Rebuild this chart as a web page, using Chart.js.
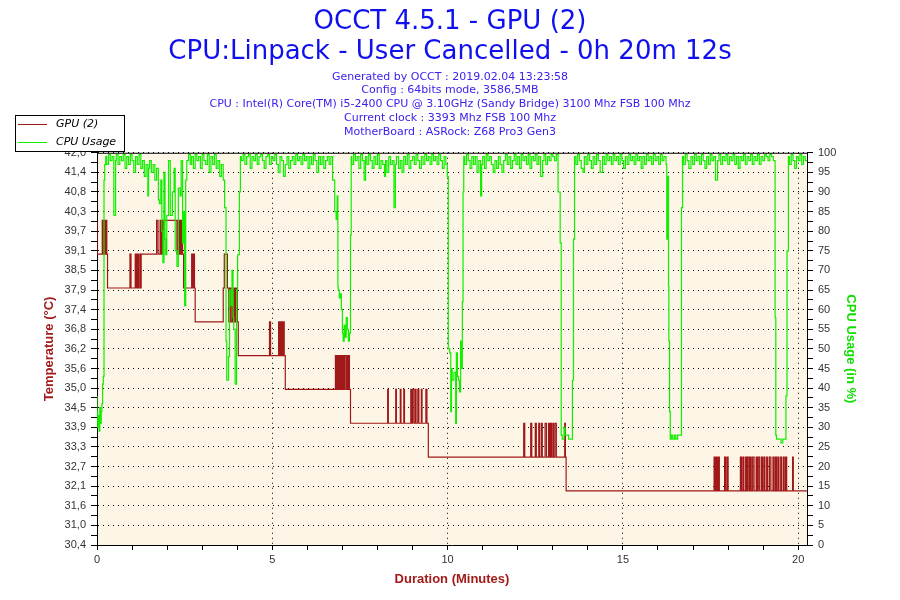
<!DOCTYPE html>
<html>
<head>
<meta charset="utf-8">
<title>OCCT 4.5.1 - GPU (2)</title>
<script src="https://cdn.jsdelivr.net/npm/chart.js@4/dist/chart.umd.min.js"></script>
<style>
  html, body { margin: 0; padding: 0; background: #fff; }
  #occtChart { display: block; }
</style>
</head>
<body>
<canvas id="occtChart" width="900" height="600"></canvas>
<script>
// Texte du rapport OCCT
var titleLines = ['OCCT 4.5.1 - GPU (2)', 'CPU:Linpack - User Cancelled - 0h 20m 12s'];
var infoLines = [
    'Generated by OCCT : 2019.02.04 13:23:58',
    'Config : 64bits mode, 3586,5MB',
    'CPU : Intel(R) Core(TM) i5-2400 CPU @ 3.10GHz (Sandy Bridge) 3100 Mhz FSB 100 Mhz',
    'Current clock : 3393 Mhz FSB 100 Mhz',
    'MotherBoard : ASRock: Z68 Pro3 Gen3'
];

// Graduations
var tempTickLabels = ['30,4', '31,0', '31,6', '32,1', '32,7', '33,3', '33,9', '34,5', '35,0', '35,6', '36,2',
    '36,8', '37,4', '37,9', '38,5', '39,1', '39,7', '40,3', '40,8', '41,4', '42,0'];
var cpuTickLabels = ['0', '5', '10', '15', '20', '25', '30', '35', '40', '45', '50',
    '55', '60', '65', '70', '75', '80', '85', '90', '95', '100'];
var minuteTickLabels = ['0', '5', '10', '15', '20'];

// GPU (2) : [minutes, °C]
var gpuTemp = [
    [0, 40], [0.15, 39], [0.18, 40], [0.21, 39], [0.23, 40], [0.26, 39], [0.28, 40], [0.3, 39],
    [0.94, 38], [0.97, 39], [1.09, 38], [1.12, 39], [1.15, 38], [1.18, 39], [1.22, 38], [1.25, 39], [1.26, 38],
    [1.7, 39], [1.74, 40], [1.8, 39], [1.83, 40], [1.86, 39], [1.88, 40], [1.9, 39],
    [2.28, 40], [2.3, 39], [2.33, 40], [2.36, 39], [2.39, 40], [2.42, 39], [2.44, 40], [2.47, 39],
    [2.7, 38], [2.73, 39], [2.76, 38], [2.78, 39], [2.8, 38],
    [3.6, 37], [3.63, 38], [3.72, 39], [3.76, 38], [3.79, 37], [3.82, 38], [3.86, 37], [3.88, 38],
    [3.92, 37], [3.95, 38], [3.98, 37], [4.0, 38], [4.03, 37],
    [4.92, 36], [4.95, 37],
    [5.18, 36], [5.2, 37], [5.22, 36], [5.24, 37], [5.27, 36], [5.29, 37], [5.32, 36], [5.34, 37], [5.37, 36],
    [6.8, 35], [6.82, 36], [6.84, 35], [6.86, 36], [6.88, 35], [6.9, 36], [6.92, 35], [6.94, 36], [6.96, 35],
    [6.98, 36], [7.0, 35], [7.03, 36], [7.06, 35], [7.1, 36], [7.12, 35], [7.15, 36], [7.18, 35], [7.2, 36], [7.23, 35],
    [8.29, 34], [8.31, 35], [8.52, 34], [8.54, 35], [8.65, 34], [8.67, 35], [8.75, 34], [8.77, 35],
    [8.95, 34], [8.97, 35], [9.0, 34], [9.04, 35], [9.08, 34], [9.1, 35], [9.15, 34], [9.18, 35],
    [9.25, 34], [9.27, 35], [9.38, 34], [9.41, 35], [9.45, 34],
    [12.17, 33], [12.2, 34], [12.37, 33], [12.4, 34], [12.5, 33], [12.53, 34], [12.6, 33], [12.63, 34],
    [12.68, 33], [12.7, 34], [12.78, 33], [12.82, 34], [12.88, 33], [12.9, 34], [12.93, 33], [12.96, 34],
    [13.0, 33], [13.02, 34], [13.06, 33], [13.1, 34], [13.34, 33], [13.36, 34], [13.38, 33],
    [17.6, 32], [17.63, 33], [17.66, 32], [17.69, 33], [17.72, 32], [17.75, 33], [17.9, 32], [17.93, 33],
    [17.97, 32], [18.0, 33], [18.35, 32], [18.38, 33], [18.42, 32], [18.45, 33], [18.5, 32], [18.53, 33],
    [18.56, 32], [18.6, 33], [18.63, 32], [18.66, 33], [18.7, 32], [18.74, 33], [18.8, 32], [18.83, 33],
    [18.86, 32], [18.9, 33], [18.95, 32], [18.98, 33], [19.02, 32], [19.05, 33], [19.1, 32], [19.13, 33],
    [19.18, 32], [19.22, 33], [19.28, 32], [19.31, 33], [19.35, 32], [19.38, 33], [19.42, 32], [19.45, 33],
    [19.5, 32], [19.53, 33], [19.58, 32], [19.6, 33], [19.64, 32], [19.67, 33], [19.84, 32], [19.86, 33],
    [19.88, 32], [20.25, 32]
];

// CPU Usage : [minutes, %]
var cpuUsage = [
    [0, 38], [0.02, 34], [0.04, 30], [0.06, 33], [0.08, 29], [0.1, 35], [0.12, 31], [0.14, 34], [0.16, 36],
    [0.18, 41], [0.2, 43], [0.22, 93], [0.25, 97],
    [0.28, 99], [0.33, 97], [0.38, 99.5], [0.43, 98], [0.48, 99], [0.53, 84], [0.55, 98], [0.6, 99.5], [0.65, 97],
    [0.7, 99], [0.75, 98], [0.8, 99.5], [0.85, 96], [0.9, 99], [0.95, 97], [1.0, 99.5], [1.05, 98], [1.1, 95],
    [1.15, 99], [1.2, 97], [1.25, 99.5], [1.3, 96], [1.35, 98], [1.4, 94], [1.45, 97], [1.47, 89], [1.5, 96],
    [1.55, 98], [1.6, 95], [1.65, 97], [1.7, 93], [1.75, 96], [1.78, 88],
    [1.82, 87], [1.85, 93], [1.88, 80], [1.91, 72], [1.94, 95], [1.96, 78], [1.99, 74], [2.04, 84], [2.09, 98],
    [2.15, 84], [2.2, 90], [2.23, 96], [2.28, 75], [2.32, 71], [2.37, 91], [2.4, 89], [2.44, 98], [2.47, 77],
    [2.5, 85], [2.53, 61], [2.56, 93], [2.61, 98],
    [2.66, 99.5], [2.7, 97], [2.75, 99], [2.8, 96], [2.85, 99.5], [2.9, 98], [2.95, 99], [3.0, 96], [3.05, 99.5],
    [3.1, 98], [3.15, 97], [3.2, 99.5], [3.25, 95], [3.3, 99], [3.35, 97], [3.4, 99.5], [3.45, 96], [3.5, 98],
    [3.55, 94], [3.6, 97],
    [3.64, 93], [3.68, 86], [3.7, 52], [3.75, 42], [3.78, 48], [3.82, 65], [3.85, 61], [3.88, 70], [3.9, 58],
    [3.94, 55], [3.98, 41], [4.01, 65], [4.06, 74], [4.09, 90], [4.12, 99],
    [4.17, 98], [4.22, 99.5], [4.27, 97], [4.32, 99], [4.37, 99.5], [4.42, 96], [4.47, 99], [4.52, 98], [4.57, 99.5],
    [4.62, 97], [4.67, 99], [4.72, 99.5], [4.77, 98], [4.82, 96], [4.87, 99], [4.92, 99.5], [4.97, 97], [5.02, 99],
    [5.07, 98], [5.12, 99.5], [5.17, 97], [5.22, 95], [5.27, 99], [5.32, 98], [5.37, 94], [5.42, 97], [5.47, 99],
    [5.52, 96], [5.57, 98], [5.62, 99], [5.67, 97], [5.72, 99.5], [5.77, 98], [5.82, 99], [5.87, 97], [5.92, 99.5],
    [5.97, 98], [6.02, 99], [6.07, 96], [6.12, 99], [6.17, 97], [6.22, 99.5], [6.27, 98], [6.32, 95], [6.37, 99],
    [6.42, 97], [6.47, 99], [6.52, 96], [6.57, 98], [6.62, 99], [6.67, 97], [6.72, 99],
    [6.78, 93], [6.82, 85], [6.85, 83], [6.87, 89], [6.88, 66], [6.91, 65], [6.94, 63], [6.97, 64], [7.0, 60],
    [7.02, 54], [7.05, 52], [7.08, 56], [7.11, 53], [7.14, 58], [7.17, 55], [7.2, 52], [7.23, 54], [7.25, 79],
    [7.27, 99],
    [7.32, 97], [7.37, 99.5], [7.42, 98], [7.47, 99], [7.52, 96], [7.57, 99.5], [7.62, 98], [7.66, 93], [7.7, 99],
    [7.75, 97], [7.8, 99.5], [7.85, 98], [7.9, 96], [7.95, 99], [8.0, 97], [8.05, 99.5], [8.1, 96], [8.15, 98],
    [8.2, 97], [8.23, 94], [8.27, 98], [8.32, 95], [8.37, 99], [8.42, 97], [8.47, 98], [8.51, 86], [8.54, 97],
    [8.6, 99], [8.65, 96], [8.7, 98], [8.75, 95], [8.8, 99], [8.85, 97], [8.9, 99.5], [8.95, 96], [9.0, 98],
    [9.05, 99], [9.1, 97], [9.15, 99.5], [9.2, 98], [9.25, 96], [9.3, 99], [9.35, 97], [9.4, 99.5], [9.45, 98],
    [9.5, 99], [9.55, 97], [9.6, 99.5], [9.65, 98], [9.7, 99], [9.75, 97], [9.8, 99.5], [9.85, 98], [9.9, 96],
    [9.95, 99], [9.99, 97],
    [10.02, 94], [10.06, 50], [10.09, 49], [10.11, 34], [10.13, 45], [10.18, 42], [10.23, 44], [10.25, 31],
    [10.28, 49], [10.31, 43], [10.34, 42], [10.37, 39], [10.4, 52], [10.42, 45], [10.44, 62], [10.46, 90],
    [10.49, 99],
    [10.54, 97], [10.59, 99.5], [10.64, 98], [10.69, 96], [10.74, 99], [10.79, 97], [10.84, 99], [10.89, 95],
    [10.94, 98], [10.97, 89], [11.0, 97], [11.05, 99], [11.1, 96], [11.15, 99.5], [11.2, 98], [11.25, 99],
    [11.3, 97], [11.35, 95], [11.4, 98], [11.45, 96], [11.5, 99], [11.55, 97], [11.6, 95], [11.65, 98],
    [11.7, 99.5], [11.75, 97], [11.8, 99], [11.85, 96], [11.9, 98], [11.95, 99.5], [12.0, 97], [12.05, 99],
    [12.1, 96], [12.15, 99.5], [12.2, 98], [12.25, 99], [12.3, 97], [12.35, 99.5], [12.4, 96], [12.45, 99],
    [12.5, 98], [12.55, 99.5], [12.6, 97], [12.65, 99], [12.71, 94], [12.75, 98], [12.8, 99.5], [12.85, 97],
    [12.9, 99], [12.95, 98], [13.0, 99.5], [13.05, 99], [13.1, 98], [13.15, 99.5],
    [13.21, 90], [13.24, 77], [13.27, 28], [13.32, 27], [13.35, 30], [13.39, 28], [13.45, 28], [13.52, 27],
    [13.56, 27], [13.59, 42], [13.62, 78], [13.66, 99],
    [13.71, 97], [13.76, 99.5], [13.81, 98], [13.86, 96], [13.9, 95], [13.95, 99], [14.0, 97], [14.05, 99.5],
    [14.1, 98], [14.15, 96], [14.2, 99], [14.25, 97], [14.3, 99.5], [14.35, 98], [14.42, 95], [14.47, 99],
    [14.52, 97], [14.57, 99.5], [14.62, 98], [14.67, 99], [14.72, 97], [14.77, 99.5], [14.82, 98], [14.87, 99],
    [14.92, 97], [14.97, 99.5], [15.02, 98], [15.07, 96], [15.12, 99], [15.17, 97], [15.22, 99.5], [15.27, 98],
    [15.32, 99], [15.37, 97], [15.42, 99.5], [15.47, 98], [15.52, 99], [15.57, 96], [15.62, 99], [15.67, 97],
    [15.72, 99.5], [15.77, 98], [15.82, 99], [15.87, 97], [15.92, 99.5], [15.97, 98], [16.02, 99], [16.07, 97],
    [16.12, 99.5], [16.17, 98], [16.23, 99],
    [16.25, 97], [16.27, 78], [16.3, 94], [16.31, 66], [16.33, 52], [16.35, 34], [16.38, 27], [16.42, 28],
    [16.47, 27], [16.51, 28], [16.56, 27], [16.62, 28], [16.67, 28], [16.7, 86], [16.73, 99],
    [16.78, 97], [16.83, 99.5], [16.88, 98], [16.94, 96], [16.99, 99], [17.04, 97], [17.09, 99.5], [17.14, 98],
    [17.19, 99], [17.24, 97], [17.29, 99.5], [17.34, 98], [17.39, 96], [17.44, 99], [17.49, 97], [17.54, 99.5],
    [17.59, 98], [17.64, 99], [17.7, 93], [17.74, 98], [17.79, 99.5], [17.84, 97], [17.89, 99], [17.94, 98],
    [17.99, 99.5], [18.04, 97], [18.09, 99], [18.14, 98], [18.19, 99.5], [18.24, 97], [18.29, 99], [18.34, 96],
    [18.39, 99], [18.44, 98], [18.49, 99.5], [18.54, 97], [18.59, 99], [18.64, 98], [18.69, 99.5], [18.74, 97],
    [18.79, 99], [18.84, 98], [18.89, 99.5], [18.94, 97], [18.99, 99], [19.04, 98], [19.09, 99.5], [19.14, 99],
    [19.19, 98], [19.24, 99.5], [19.29, 99], [19.34, 98],
    [19.36, 58], [19.38, 28], [19.42, 27], [19.47, 27], [19.51, 27], [19.56, 26], [19.61, 27], [19.65, 27],
    [19.68, 38], [19.72, 75], [19.75, 99],
    [19.8, 97], [19.85, 99.5], [19.9, 98], [19.95, 96], [20.0, 99], [20.05, 98], [20.1, 99.5], [20.15, 97],
    [20.2, 99], [20.25, 98]
];

var axisFont = "'Liberation Sans Narrow', 'Liberation Sans', Arial, sans-serif";
var dotted = [1, 4];

// fond crème de la zone, cadre et légende OCCT
var occtFrame = {
    id: 'occtFrame',
    beforeDraw: function (chart) {
        var ctx = chart.ctx, a = chart.chartArea;
        ctx.save();
        ctx.fillStyle = '#ffffff';
        ctx.fillRect(0, 0, chart.width, chart.height);
        ctx.fillStyle = '#fdf5e6';
        ctx.fillRect(a.left, a.top, a.right - a.left, a.bottom - a.top);
        ctx.restore();
    },
    afterDraw: function (chart) {
        var ctx = chart.ctx, a = chart.chartArea;
        ctx.save();
        ctx.strokeStyle = '#000';
        ctx.lineWidth = 1;
        ctx.beginPath();
        ctx.moveTo(a.left, a.top + 0.5);
        ctx.lineTo(a.right, a.top + 0.5);
        ctx.stroke();

        // légende
        ctx.fillStyle = '#fff';
        ctx.fillRect(15.5, 115.5, 109, 36);
        ctx.strokeRect(15.5, 115.5, 109, 36);
        var items = chart.data.datasets;
        ctx.font = "italic 11px 'DejaVu Sans'";
        ctx.textBaseline = 'middle';
        for (var i = 0; i < items.length; i++) {
            var y = 124.5 + i * 18;
            ctx.strokeStyle = items[i].borderColor;
            ctx.beginPath();
            ctx.moveTo(18, y);
            ctx.lineTo(47, y);
            ctx.stroke();
            ctx.fillStyle = '#000';
            ctx.fillText(items[i].label, 56, y);
        }
        ctx.restore();
    }
};

var ctxOcct = document.getElementById('occtChart').getContext('2d');
var occtChart = new Chart(ctxOcct, {
    type: 'line',
    data: {
        datasets: [{
            label: 'GPU (2)',
            data: gpuTemp.map(function (p) { return { x: p[0], y: p[1] }; }),
            yAxisID: 'yTemp',
            borderColor: '#a01818',
            borderWidth: 1.2,
            pointRadius: 0,
            stepped: 'after',
            order: 1
        }, {
            label: 'CPU Usage',
            data: cpuUsage.map(function (p) { return { x: p[0], y: p[1] }; }),
            yAxisID: 'yCpu',
            borderColor: '#11ee00',
            borderWidth: 1.2,
            pointRadius: 0,
            stepped: 'after',
            order: 0
        }]
    },
    options: {
        responsive: false,
        animation: false,
        devicePixelRatio: 1,
        layout: { padding: 0 },
        plugins: {
            legend: { display: false },
            tooltip: { enabled: false },
            title: {
                display: true,
                text: titleLines,
                color: '#1010ee',
                font: { family: "'DejaVu Sans'", size: 26, weight: 'normal', lineHeight: 30 / 26 },
                padding: { top: 7, bottom: 0 }
            },
            subtitle: {
                display: true,
                text: infoLines,
                color: '#3a22ee',
                font: { family: "'DejaVu Sans'", size: 11, weight: 'normal', lineHeight: 1.25 },
                padding: { top: 3, bottom: 14 }
            }
        },
        scales: {
            x: {
                type: 'linear',
                min: 0,
                max: 20.25,
                afterBuildTicks: function (scale) {
                    var t = [];
                    for (var m = 0; m <= 20; m++) t.push({ value: m });
                    scale.ticks = t;
                },
                afterFit: function (scale) { scale.height = 55; },
                ticks: {
                    autoSkip: false,
                    maxRotation: 0,
                    padding: 3,
                    color: '#333',
                    font: { family: axisFont, size: 11 },
                    callback: function (v) { return v % 5 === 0 ? minuteTickLabels[v / 5] : ''; }
                },
                grid: {
                    color: function (c) { return c.tick && c.tick.value % 5 === 0 && c.tick.value > 0 ? '#000' : 'rgba(0,0,0,0)'; },
                    tickColor: '#000',
                    tickBorderDash: [],
                    tickLength: 5
                },
                border: { color: '#000', width: 1, dash: dotted },
                title: {
                    display: true,
                    text: 'Duration (Minutes)',
                    color: '#a31a1a',
                    font: { family: axisFont, size: 13, weight: 'bold' },
                    padding: { top: 0, bottom: 13 }
                }
            },
            yTemp: {
                type: 'linear',
                position: 'left',
                min: 30.4,
                max: 42.0,
                afterBuildTicks: function (scale) {
                    var t = [];
                    for (var i = 0; i < tempTickLabels.length * 2 - 1; i++) t.push({ value: 30.4 + i * 0.29 });
                    scale.ticks = t;
                },
                afterFit: function (scale) { scale.width = 97; },
                ticks: {
                    autoSkip: false,
                    padding: 5,
                    color: '#333',
                    font: { family: axisFont, size: 11 },
                    callback: function (v, i) { return i % 2 === 0 ? tempTickLabels[i / 2] : ''; }
                },
                grid: {
                    color: function (c) { return c.index % 2 === 0 && c.index > 0 ? '#000' : 'rgba(0,0,0,0)'; },
                    tickColor: '#000',
                    tickBorderDash: [],
                    tickLength: 6
                },
                border: { color: '#000', width: 1, dash: dotted },
                title: {
                    display: true,
                    text: 'Temperature (°C)',
                    color: '#a31a1a',
                    font: { family: axisFont, size: 13, weight: 'bold' },
                    padding: { top: 42, bottom: 0 }
                }
            },
            yCpu: {
                type: 'linear',
                position: 'right',
                min: 0,
                max: 100,
                afterBuildTicks: function (scale) {
                    var t = [];
                    for (var i = 0; i < cpuTickLabels.length * 2 - 1; i++) t.push({ value: i * 2.5 });
                    scale.ticks = t;
                },
                afterFit: function (scale) { scale.width = 93; },
                ticks: {
                    autoSkip: false,
                    padding: 5,
                    color: '#333',
                    font: { family: axisFont, size: 11 },
                    callback: function (v, i) { return i % 2 === 0 ? cpuTickLabels[i / 2] : ''; }
                },
                grid: {
                    drawOnChartArea: false,
                    tickColor: '#000',
                    tickLength: 6
                },
                border: { color: '#000', width: 1 },
                title: {
                    display: true,
                    text: 'CPU Usage (in %)',
                    color: '#11dd00',
                    font: { family: axisFont, size: 13, weight: 'bold' },
                    padding: { top: 42, bottom: 0 }
                }
            }
        }
    },
    plugins: [occtFrame]
});
</script>
</body>
</html>
